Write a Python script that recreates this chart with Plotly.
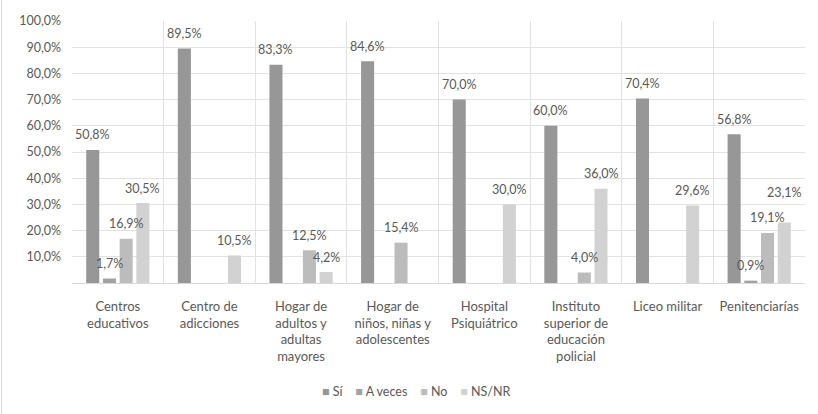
import plotly.graph_objects as go

# Categories and series (percentages)
categorias = [
    "Centros<br>educativos",
    "Centro de<br>adicciones",
    "Hogar de<br>adultos y<br>adultas<br>mayores",
    "Hogar de<br>niños, niñas y<br>adolescentes",
    "Hospital<br>Psiquiátrico",
    "Instituto<br>superior de<br>educación<br>policial",
    "Liceo militar",
    "Penitenciarías",
]
si = [50.8, 89.5, 83.3, 84.6, 70.0, 60.0, 70.4, 56.8]
a_veces = [1.7, None, None, None, None, None, None, 0.9]
no = [16.9, None, 12.5, 15.4, None, 4.0, None, 19.1]
ns_nr = [30.5, 10.5, 4.2, None, 30.0, 36.0, 29.6, 23.1]

series = [
    ("Sí", si, "#979797"),
    ("A veces", a_veces, "#a2a2a2"),
    ("No", no, "#bcbcbc"),
    ("NS/NR", ns_nr, "#d2d2d2"),
]

tick_vals = [10, 20, 30, 40, 50, 60, 70, 80, 90, 100]
tick_text = [f"{v:.1f}%".replace(".", ",") for v in tick_vals]


def pct(v):
    return f"{v:.1f}%".replace(".", ",")


FONT = "Lato"
TXT = "#595959"
FS = 12.5

W, H = 818, 414
ML, MR, MT, MB = 72, 13, 21, 131
BARGAP = 0.27
plot_w = W - ML - MR
plot_h = H - MT - MB

fig = go.Figure()
for nombre, valores, color in series:
    fig.add_trace(
        go.Bar(
            name=nombre,
            x=categorias,
            y=valores,
            marker=dict(color=color, line=dict(width=0)),
            showlegend=False,
        )
    )

# data labels above each bar (one label lifted to clear its neighbour)
label_gap = 15
extra_lift = {("NS/NR", 7): 15}
slot = plot_w / len(categorias) * (1 - BARGAP) / len(series)
for i, (nombre, valores, _) in enumerate(series):
    dx = (i - (len(series) - 1) / 2) * slot
    for j, v in enumerate(valores):
        if v is None:
            continue
        fig.add_annotation(
            x=categorias[j],
            y=v,
            xref="x",
            yref="y",
            text=pct(v),
            showarrow=False,
            xshift=dx,
            yshift=label_gap + extra_lift.get((nombre, j), 0),
            yanchor="middle",
            xanchor="center",
            font=dict(family=FONT, size=FS, color=TXT),
        )

# compact legend row below the categories
legend_txt = "&nbsp;&nbsp;&nbsp;&nbsp;".join(
    f"<span style='color:{c}'>■</span> {n}" for n, _, c in series
)
fig.add_annotation(
    x=(416 - ML) / plot_w,
    xref="paper",
    y=(H - MB - 391) / plot_h,
    yref="paper",
    text=legend_txt,
    showarrow=False,
    xanchor="center",
    yanchor="middle",
    font=dict(family=FONT, size=FS, color=TXT),
)

fig.update_layout(
    width=W,
    height=H,
    margin=dict(l=ML, r=MR, t=MT, b=MB),
    paper_bgcolor="white",
    plot_bgcolor="white",
    barmode="group",
    bargap=BARGAP,
    bargroupgap=0.22,
    font=dict(family=FONT, size=FS, color=TXT),
    showlegend=False,
    xaxis=dict(
        tickson="boundaries",
        showgrid=True,
        gridcolor="#e2e2e2",
        gridwidth=1,
        ticks="",
        showline=True,
        linecolor="#d9d9d9",
        linewidth=1,
        tickfont=dict(family=FONT, size=13, color=TXT),
        ticklabelstandoff=11,
    ),
    yaxis=dict(
        range=[0, 100],
        tickvals=tick_vals,
        ticktext=tick_text,
        showgrid=True,
        gridcolor="#e2e2e2",
        gridwidth=1,
        zeroline=False,
        showline=False,
        ticks="",
        tickfont=dict(family=FONT, size=FS, color=TXT),
        ticklabelstandoff=10,
    ),
)

# light frame line along the left edge of the chart area
fig.add_shape(
    type="line",
    xref="paper",
    yref="paper",
    x0=(1.5 - ML) / plot_w,
    x1=(1.5 - ML) / plot_w,
    y0=-MB / plot_h,
    y1=(H - MB) / plot_h,
    line=dict(color="#d9d9d9", width=1),
)

fig.write_html("out.html")
